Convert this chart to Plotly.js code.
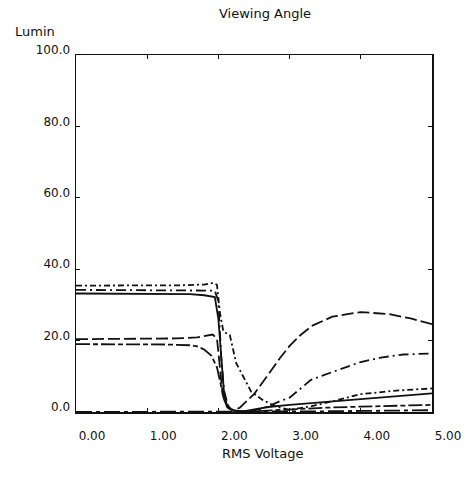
<!DOCTYPE html>
<html>
<head>
<meta charset="utf-8">
<script src="https://cdn.plot.ly/plotly-3.0.1.min.js"></script>
<style>html,body{margin:0;padding:0;background:#fff;}#chart{width:475px;height:480px;}</style>
</head>
<body>
<div id="chart"></div>
<script>
// Curve A (top, dash-dot)
var xA = [0, 0.5, 1.0, 1.5, 1.8, 1.93, 1.98, 2.02, 2.07, 2.16, 2.25, 2.37, 2.46, 2.62, 2.81, 3.0, 3.3, 3.6, 4.0, 4.5, 5.0];
var yA = [35.4, 35.4, 35.4, 35.5, 35.7, 36.2, 35.6, 28.0, 22.5, 21.6, 13.7, 9.0, 5.7, 3.4, 1.5, 0.6, 1.6, 3.0, 5.0, 6.0, 6.6];
// Curve B (second from top)
var xB = [0, 0.5, 1.0, 1.5, 1.8, 1.95, 2.0, 2.04, 2.08, 2.13, 2.2, 2.3, 2.45, 2.6, 2.75, 2.86, 3.0, 3.3, 3.6, 4.0, 4.3, 4.6, 5.0];
var yB = [34.2, 34.2, 34.2, 34.2, 34.2, 34.0, 31.0, 15.0, 6.0, 2.0, 0.6, 0.2, 0.3, 0.9, 2.0, 3.0, 4.0, 9.0, 11.2, 14.0, 15.3, 16.1, 16.4];
// Curve C (third from top, solid)
var xC = [0, 0.5, 1.0, 1.3, 1.6, 1.8, 1.95, 2.0, 2.04, 2.08, 2.12, 2.2, 2.35, 2.5, 2.7, 3.0, 3.5, 4.0, 4.5, 5.0];
var yC = [33.2, 33.2, 33.2, 33.2, 33.0, 32.7, 32.2, 26.0, 14.0, 5.0, 2.0, 0.4, 0.2, 0.8, 1.4, 2.0, 2.8, 3.4, 4.3, 5.2];
// Curve D (upper middle, long dash)
var xD = [0, 0.5, 1.0, 1.4, 1.7, 1.85, 1.92, 1.98, 2.02, 2.06, 2.12, 2.2, 2.3, 2.5, 2.7, 2.86, 3.0, 3.15, 3.32, 3.6, 4.0, 4.4, 4.7, 5.0];
var yD = [20.4, 20.4, 20.5, 20.6, 20.9, 21.5, 21.7, 20.5, 12.0, 5.0, 1.5, 0.4, 1.2, 5.0, 10.5, 15.0, 18.5, 21.5, 24.2, 26.7, 28.0, 27.4, 26.2, 24.6];
// Curve E (lower middle)
var xE = [0, 0.5, 1.0, 1.3, 1.6, 1.7, 1.8, 1.9, 1.98, 2.03, 2.08, 2.13, 2.2, 2.5, 3.0, 3.5, 4.0, 4.5, 5.0];
var yE = [19.0, 19.0, 19.0, 18.9, 18.7, 18.4, 17.5, 15.8, 12.5, 8.0, 3.5, 1.2, 0.3, 0.2, 0.8, 1.2, 1.5, 1.8, 2.0];
// Curve F (bottom)
var xF = [0, 1.0, 2.0, 2.5, 3.0, 3.5, 4.0, 4.5, 5.0];
var yF = [0.0, 0.0, 0.0, 0.0, 0.1, 0.2, 0.3, 0.4, 0.5];

var xTicks = [0, 1, 2, 3, 4, 5];
var yTicks = [0, 20, 40, 60, 80, 100];

function tr(x, y, dash) {
  return {x: x, y: y, type: 'scatter', mode: 'lines', line: {color: '#111', width: 1.8, dash: dash}, hoverinfo: 'skip'};
}
var data = [
  tr(xA, yA, '6px,3px,2px,3px'),
  tr(xB, yB, '10px,4px,2px,4px'),
  tr(xC, yC, 'solid'),
  tr(xD, yD, '12px,4px'),
  tr(xE, yE, '14px,3px,5px,3px'),
  tr(xF, yF, '16px,4px,4px,4px')
];

var fnt = {family: 'DejaVu Sans, Arial, sans-serif', size: 12, color: '#111'};
var layout = {
  width: 475, height: 480,
  margin: {l: 76, r: 43, t: 55, b: 68},
  paper_bgcolor: '#fff', plot_bgcolor: '#fff',
  showlegend: false,
  font: fnt,
  xaxis: {
    range: [0, 5], tickvals: xTicks, tickformat: '.2f',
    showline: true, linecolor: '#111', linewidth: 1.5, mirror: 'allticks',
    ticks: 'inside', ticklen: 4, tickcolor: '#111',
    showgrid: false, zeroline: false,
    ticklabelshift: 16, ticklabelstandoff: 12,
    tickfont: fnt
  },
  yaxis: {
    range: [0, 100], tickvals: yTicks, tickformat: '.1f',
    showline: true, linecolor: '#111', linewidth: 1.5, mirror: 'allticks',
    ticks: 'inside', ticklen: 4, tickcolor: '#111',
    showgrid: false, zeroline: false,
    ticklabelshift: -5, ticklabelstandoff: 2,
    tickfont: fnt
  },
  annotations: [
    {text: 'Viewing Angle', xref: 'paper', yref: 'paper', x: 0.53, y: 1.115, xanchor: 'center', yanchor: 'middle', showarrow: false, font: {family: 'DejaVu Sans, Arial, sans-serif', size: 13, color: '#111'}},
    {text: 'Lumin', xref: 'paper', yref: 'paper', x: -0.177, y: 1.065, xanchor: 'left', yanchor: 'middle', showarrow: false, font: {family: 'DejaVu Sans, Arial, sans-serif', size: 13, color: '#111'}},
    {text: 'RMS Voltage', xref: 'paper', yref: 'paper', x: 0.525, y: -0.115, xanchor: 'center', yanchor: 'middle', showarrow: false, font: {family: 'DejaVu Sans, Arial, sans-serif', size: 13, color: '#111'}}
  ]
};
Plotly.newPlot('chart', data, layout, {displayModeBar: false, staticPlot: true});
</script>
</body>
</html>
